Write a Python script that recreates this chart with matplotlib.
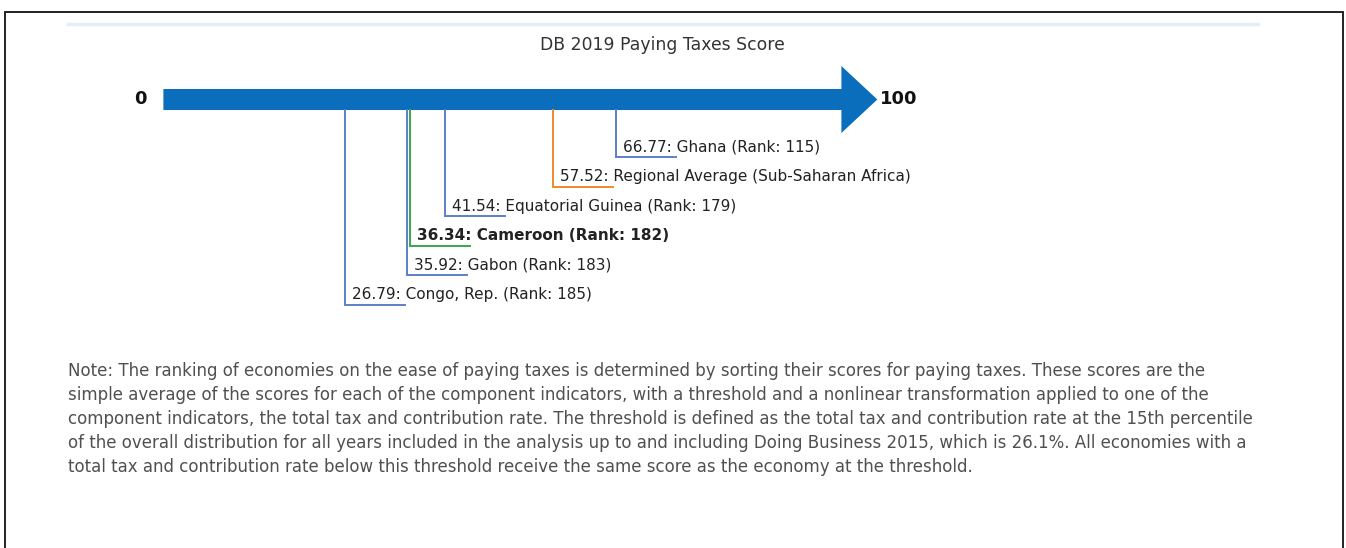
import matplotlib
matplotlib.use("Agg")
import matplotlib.pyplot as plt
from matplotlib.patches import FancyArrow

# ---- data ----
economies = ["Ghana", "Regional Average (Sub-Saharan Africa)", "Equatorial Guinea",
             "Cameroon", "Gabon", "Congo, Rep."]
scores = [66.77, 57.52, 41.54, 36.34, 35.92, 26.79]
ranks = [115, None, 179, 182, 183, 185]
highlight = "Cameroon"
regional = "Regional Average (Sub-Saharan Africa)"
title = "DB 2019 Paying Taxes Score"
scale_min, scale_max = 0, 100
note = ("Note: The ranking of economies on the ease of paying taxes is determined by sorting their scores for paying taxes. These scores are the\n"
        "simple average of the scores for each of the component indicators, with a threshold and a nonlinear transformation applied to one of the\n"
        "component indicators, the total tax and contribution rate. The threshold is defined as the total tax and contribution rate at the 15th percentile\n"
        "of the overall distribution for all years included in the analysis up to and including Doing Business 2015, which is 26.1%. All economies with a\n"
        "total tax and contribution rate below this threshold receive the same score as the economy at the threshold.")

W, H = 1346, 548
fig = plt.figure(figsize=(W / 100, H / 100), dpi=100)
fig.patch.set_facecolor("white")

# decoration axes in pixel coordinates
deco = fig.add_axes([0, 0, 1, 1])
deco.set_xlim(0, W)
deco.set_ylim(H, 0)
deco.axis("off")
deco.plot([5, 5, 1343, 1343], [H + 5, 12, 12, H + 5], color="#222222", lw=1.4, solid_joinstyle="miter")
deco.plot([68, 1258], [24, 24], color="#e3eef9", lw=2.5)
deco.text(662, 45, title, ha="center", va="center", fontsize=12.4, color="#333333",
          family="DejaVu Sans")
deco.text(68, 362, note, ha="left", va="top", fontsize=12, color="#505050",
          family="DejaVu Sans", linespacing=1.42)

# chart axes: x in score units
px0, px_per = 163.4, 6.78
ax = fig.add_axes([0, 0, 1, 1], facecolor="none")
ax.set_xlim(-px0 / px_per, (W - px0) / px_per)
ax.set_ylim(H, 0)
ax.axis("off")

arrow_y = 99.5
head_len = 5.3
ax.add_patch(FancyArrow(scale_min, arrow_y, (scale_max - scale_min) + head_len, 0,
                        width=21, head_width=67, head_length=head_len,
                        length_includes_head=True, color="#0a6ebd", lw=0))
ax.text(scale_min - 3.4, arrow_y, f"{scale_min}", ha="center", va="center",
        fontsize=13, fontweight="bold", color="#111111")
ax.text(scale_max + head_len + 0.4, arrow_y, f"{scale_max}", ha="left", va="center",
        fontsize=13, fontweight="bold", color="#111111")

blue, green, orange = "#5b7fc7", "#3aa651", "#f0882a"
level0, step = 157, 29.6
hlen = 8.85
for i, (name, s, r) in enumerate(zip(economies, scores, ranks)):
    lvl = level0 + i * step
    if name == highlight:
        c = green
    elif name == regional:
        c = orange
    else:
        c = blue
    ax.plot([s, s, s + hlen], [arrow_y + 10.5, lvl, lvl], color=c, lw=1.4,
            solid_joinstyle="miter")
    label = f"{s:.2f}: {name}" + (f" (Rank: {r})" if r is not None else "")
    ax.text(s + 1.0, lvl - 10, label, ha="left", va="center", fontsize=11,
            color="#222222", fontweight="bold" if name == highlight else "normal")

fig.savefig("out.png", dpi=100, facecolor="white")
